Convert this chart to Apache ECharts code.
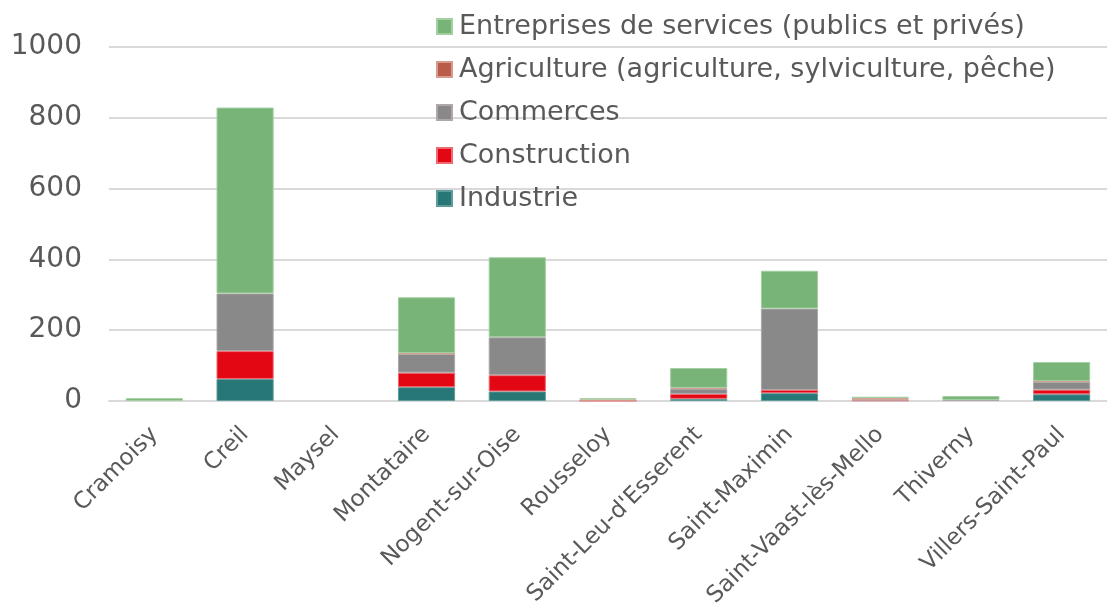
<!DOCTYPE html>
<html>
<head>
<meta charset="utf-8">
<script src="https://cdn.jsdelivr.net/npm/echarts@6/dist/echarts.min.js"></script>
<style>
  html, body { margin: 0; padding: 0; background: #fff; }
  #chart { width: 1107px; height: 612px; }
</style>
</head>
<body>
<div id="chart"></div>
<script>
const categories = ['Cramoisy', 'Creil', 'Maysel', 'Montataire', 'Nogent-sur-Oise', 'Rousseloy',
  "Saint-Leu-d'Esserent", 'Saint-Maximin', 'Saint-Vaast-lès-Mello', 'Thiverny', 'Villers-Saint-Paul']
const industrie = [0, 62, 0, 39, 27, 0, 6, 22, 0, 0, 19]
const construction = [0, 79, 0, 41, 46, 1, 14, 9, 2, 0, 13]
const commerces = [0, 163, 0, 53, 107, 0, 14, 230, 2, 3, 22]
const agriculture = [0, 0, 0, 2, 0, 3, 3, 0, 4, 0, 2]
const services = [8, 525, 0, 158, 226, 4, 56, 107, 4, 11, 54]

const textColor = '#595959'
const font = 'DejaVu Sans'

// couleur de remplissage + liseré plus clair ; les zéros ne sont pas dessinés
function bar(name, data, color, border) {
  return {
    name, type: 'bar', stack: 'total', barWidth: '63%',
    data: data.map(v => (v === 0 ? null : v)),
    itemStyle: { color, borderColor: border, borderWidth: 1 }
  }
}

const chart = echarts.init(document.getElementById('chart'))
chart.setOption({
  animation: false,
  textStyle: { fontFamily: font },
  grid: { left: 109, right: -11, top: 47, bottom: 211, containLabel: false },
  legend: {
    orient: 'vertical', left: 436, top: 13, padding: 0,
    itemWidth: 15, itemHeight: 15, itemGap: 16,
    icon: 'rect',
    textStyle: { fontSize: 27, color: textColor, fontFamily: font, padding: [0, 0, 0, 2] },
    data: ['Entreprises de services (publics et privés)', 'Agriculture (agriculture, sylviculture, pêche)',
      'Commerces', 'Construction', 'Industrie']
  },
  xAxis: {
    type: 'category', data: categories,
    axisLine: { lineStyle: { color: '#d9d9d9', width: 2 } },
    axisTick: { show: false },
    axisLabel: { rotate: 45, fontSize: 23, color: textColor, margin: 30, interval: 0 }
  },
  yAxis: {
    type: 'value', min: 0, max: 1000, interval: 200,
    axisLabel: { fontSize: 28, color: textColor, margin: 27, formatter: v => String(v) },
    splitLine: { lineStyle: { color: '#d9d9d9', width: 2 } },
    axisLine: { show: false }, axisTick: { show: false }
  },
  series: [
    bar('Industrie', industrie, '#287777', '#5e9c9c'),
    bar('Construction', construction, '#e30613', '#ee6a70'),
    bar('Commerces', commerces, '#898989', '#b0a8a8'),
    bar('Agriculture (agriculture, sylviculture, pêche)', agriculture, '#b95c4a', '#d89a8c'),
    bar('Entreprises de services (publics et privés)', services, '#78b378', '#a3d0a3')
  ]
})
</script>
</body>
</html>
